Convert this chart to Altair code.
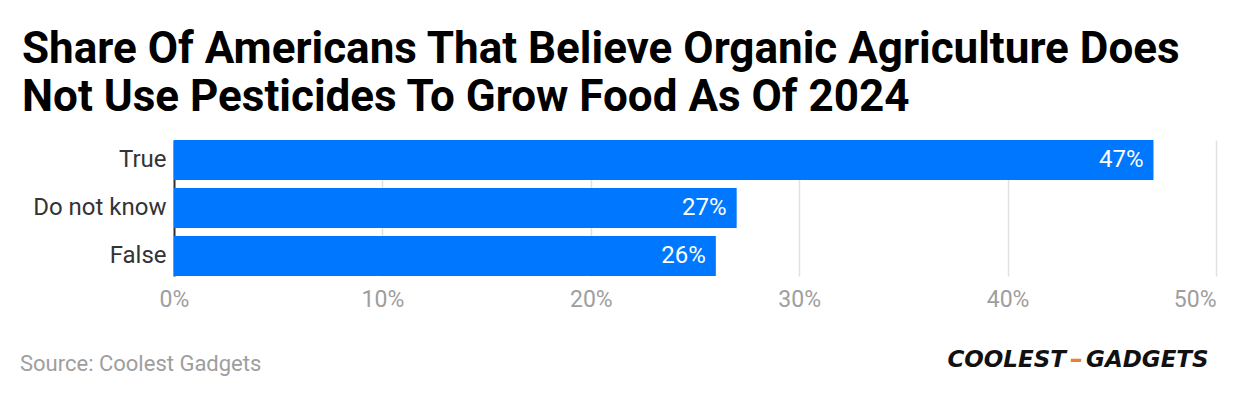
import altair as alt
import pandas as pd

categories = ["True", "Do not know", "False"]
values = [47, 27, 26]
labels = ["47%", "27%", "26%"]
x_ticks = [0, 10, 20, 30, 40, 50]
title_lines = [
    "Share Of Americans That Believe Organic Agriculture Does",
    "Not Use Pesticides To Grow Food As Of 2024",
]
source_text = "Source: Coolest Gadgets"

df = pd.DataFrame({"cat": categories, "val": values, "lab": labels})

FONT = "Roboto"
BLUE = "#0077FF"

base = alt.Chart(df).encode(
    y=alt.Y(
        "cat:N",
        sort=categories,
        scale=alt.Scale(paddingInner=1 / 6, paddingOuter=0),
        axis=alt.Axis(
            title=None,
            labelFont=FONT,
            labelFontSize=24,
            labelColor="#333333",
            labelPadding=8,
            domain=True,
            domainColor="#333333",
            domainWidth=2,
            ticks=False,
            grid=False,
        ),
    ),
    x=alt.X(
        "val:Q",
        scale=alt.Scale(domain=[0, 50]),
        axis=alt.Axis(
            title=None,
            values=x_ticks,
            labelExpr="datum.value + '%'",
            labelFont=FONT,
            labelFontSize=23,
            labelColor="#9e9e9e",
            labelPadding=12,
            labelFlush=False,
            labelAlign=alt.expr("datum.value == 50 ? 'right' : 'center'"),
            domain=False,
            ticks=False,
            grid=True,
            gridColor="#e0e0e0",
            gridWidth=1.5,
        ),
    ),
)

bars = base.mark_bar(color=BLUE)
texts = base.mark_text(
    align="right", baseline="middle", dx=-10, color="white", font=FONT, fontSize=24
).encode(text="lab:N")

src = alt.Chart(pd.DataFrame({"t": [source_text]})).mark_text(
    align="left", baseline="middle", font=FONT, fontSize=22, color="#9e9e9e"
).encode(text="t:N", x=alt.value(-154), y=alt.value(224))

logo_df = pd.DataFrame({"a": ["COOLEST"], "b": ["–"], "c": ["GADGETS"]})
logo1 = alt.Chart(logo_df).mark_text(
    align="right", baseline="middle", font="DejaVu Sans", fontSize=23,
    fontWeight=900, fontStyle="italic", color="#111111"
).encode(text="a:N", x=alt.value(892), y=alt.value(220))
logo2 = alt.Chart(logo_df).mark_text(
    align="center", baseline="middle", font="DejaVu Sans", fontSize=26,
    fontWeight=900, color="#E8803A"
).encode(text="b:N", x=alt.value(902), y=alt.value(220))
logo3 = alt.Chart(logo_df).mark_text(
    align="left", baseline="middle", font="DejaVu Sans", fontSize=23,
    fontWeight=900, fontStyle="italic", color="#111111"
).encode(text="c:N", x=alt.value(912), y=alt.value(220))

chart = alt.layer(bars, texts, src, logo1, logo2, logo3).properties(
    width=1042,
    height=136,
    autosize=alt.AutoSizeParams(type="none"),
    padding={"left": 166, "top": 132, "right": 16, "bottom": 114},
    title=alt.TitleParams(
        text=title_lines,
        anchor="start",
        frame="group",
        dx=-152,
        font=FONT,
        fontSize=44,
        fontWeight="bold",
        color="#000000",
        lineHeight=48,
        offset=20,
    ),
).configure_view(stroke=None)

chart.save("out.html", embed_options={"renderer": "svg", "actions": False})
